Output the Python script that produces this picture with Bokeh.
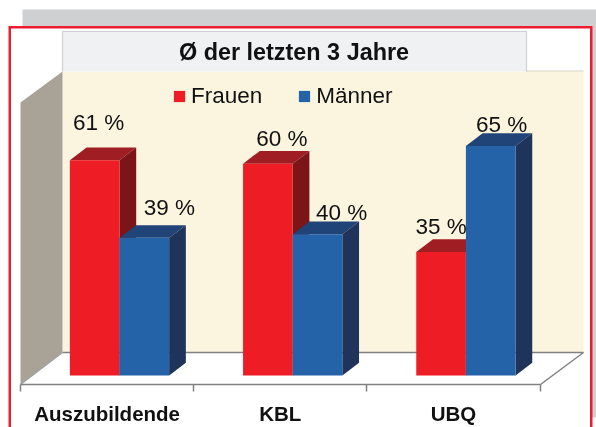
from bokeh.plotting import figure
from bokeh.embed import file_html
from bokeh.resources import INLINE
from bokeh.core.properties import value
from bokeh.models import FixedTicker, Legend, LegendItem, LinearAxis

# ---- data ----
categories = ["Auszubildende", "KBL", "UBQ"]
frauen = [61, 60, 35]
maenner = [39, 40, 65]
frauen_labels = ["61 %", "60 %", "35 %"]
maenner_labels = ["39 %", "40 %", "65 %"]
title_text = "Ø der letzten 3 Jahre"
legend_labels = ["Frauen", "Männer"]

# ---- layout ----
W, H = 596, 427
PX_X, X0 = 173.2, 20.0    # pixels per category, pixel of category 0
PX_Y, Y0 = 3.53, 375.0    # pixels per percent, pixel of 0 %
def ux(px): return (px - X0) / PX_X
def uy(py): return (Y0 - py) / PX_Y

BAR_W = 0.2866
BAR_GAP = 0.285
DX, DY = 16.7 / PX_X, 12.7 / PX_Y

RED, RED_SIDE, RED_TOP = "#EE1C25", "#7B1517", "#A01E23"
BLUE, BLUE_SIDE, BLUE_TOP = "#2563A8", "#20335A", "#204477"
FONT = value("Liberation Sans")

p = figure(width=W, height=H, x_range=(ux(0), ux(W)), y_range=(uy(H), uy(0)),
           output_backend="svg", toolbar_location=None, min_border=0,
           x_axis_type=None, y_axis_type=None,
           background_fill_color="white", border_fill_color="white", outline_line_color=None)
p.styles = {"position": "fixed", "left": "0", "top": "0"}
p.grid.visible = False

def rect(l, t, r, b, **kw):
    p.quad(left=ux(l), right=ux(r), top=uy(t), bottom=uy(b), line_color=None, **kw)
def poly(pts, color):
    p.patch([ux(a) for a, _ in pts], [uy(b) for _, b in pts], fill_color=color, line_color=None)
def line(pts, color, width):
    p.line([ux(a) for a, _ in pts], [uy(b) for _, b in pts], line_color=color, line_width=width)

# page frame
rect(22, 9, 596, 417, fill_color="#CFD0D2")
rect(8, 25.5, 592, 427, fill_color="#EE1C2E")
rect(10.5, 28, 589.5, 427, fill_color="white")

# back wall, side wall, floor
rect(62, 71, 583, 352, fill_color="#FBF4DF")
line([(526, 70.5), (583, 70.5)], "#D8CFB8", 1)
poly([(20, 102), (62, 71), (62, 352), (20, 384)], "#A9A397")
poly([(20, 384), (62, 352), (583, 352), (540, 384)], "white")
line([(62, 352), (583, 352), (540, 384)], "#808080", 1.5)
line([(20, 384), (62, 352)], "#A0A0A0", 1.2)

# title tab
rect(62, 31, 526, 71, fill_color="#EFF1F3")
line([(62, 71), (62, 31), (526, 31), (526, 71)], "#D0D0D0", 1.2)
p.text(x=[ux(293.5)], y=[uy(51)], text=[title_text], text_font=FONT, text_font_style="bold",
       text_font_size="23.4px", text_align="center", text_baseline="alphabetic", text_color="#111111")

# bars
def draw_series(vals, offs, front, side, top, i):
    x0 = i + offs
    x1 = x0 + BAR_W
    v = vals[i]
    p.patch([x0, x0 + DX, x1 + DX, x1], [v, v + DY, v + DY, v], fill_color=top, line_color=None)
    p.patch([x1, x1 + DX, x1 + DX, x1], [0, DY, v + DY, v], fill_color=side, line_color=None)
    return p.vbar(x=[(x0 + x1) / 2], width=BAR_W, bottom=0, top=[v], fill_color=front, line_color=None)

legend_r = {}
for i in range(len(categories)):
    legend_r["f"] = draw_series(frauen, BAR_GAP, RED, RED_SIDE, RED_TOP, i)
    legend_r["m"] = draw_series(maenner, BAR_GAP + BAR_W, BLUE, BLUE_SIDE, BLUE_TOP, i)

# value labels
lab_kw = dict(text_font=FONT, text_font_size="22.5px", text_align="center",
              text_baseline="alphabetic", text_color="#111111")
frauen_x = [i + BAR_GAP + BAR_W / 2 for i in range(3)]
maenner_x = [i + BAR_GAP + BAR_W * 1.5 for i in range(3)]
p.text(x=frauen_x, y=frauen, text=frauen_labels, x_offset=[4, 14, 0], y_offset=[-38, -25, -25], **lab_kw)
p.text(x=maenner_x, y=maenner, text=maenner_labels, x_offset=[25, 24, 11], y_offset=[-30, -22, -22], **lab_kw)

# axis: category labels mid-category, tick marks at the category boundaries
axis = LinearAxis(ticker=FixedTicker(ticks=[0.5, 1.5, 2.5], minor_ticks=[0, 1, 2, 3]),
                  bounds=(0, 3), fixed_location=uy(384),
                  major_label_overrides={i + 0.5: c for i, c in enumerate(categories)},
                  axis_line_color="#808080", axis_line_width=1.5,
                  major_tick_line_color=None, major_tick_in=0, major_tick_out=0,
                  minor_tick_line_color="#808080", minor_tick_line_width=1.5,
                  minor_tick_in=0, minor_tick_out=7,
                  major_label_standoff=10, major_label_text_font="Liberation Sans",
                  major_label_text_font_style="bold", major_label_text_font_size="20.5px",
                  major_label_text_color="#111111")
p.add_layout(axis, "below")

# legend
legend = Legend(items=[LegendItem(label=legend_labels[0], renderers=[legend_r["f"]]),
                       LegendItem(label=legend_labels[1], renderers=[legend_r["m"]])],
                orientation="horizontal", location=(172, H - 109), glyph_width=14, glyph_height=14,
                label_standoff=5, spacing=35, padding=0, margin=0, background_fill_alpha=0,
                border_line_color=None, label_text_font="Liberation Sans", label_text_font_size="22.5px",
                label_text_color="#111111", label_height=26)
p.add_layout(legend, "center")

open("out.html", "w").write(file_html(p, INLINE))
